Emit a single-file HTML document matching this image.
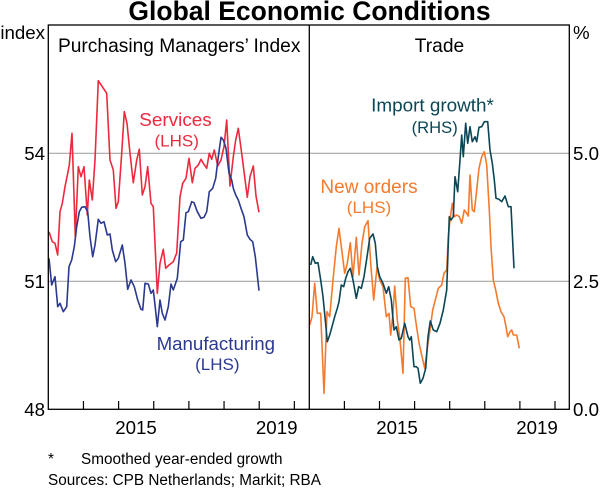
<!DOCTYPE html>
<html>
<head>
<meta charset="utf-8">
<style>
  html, body { margin: 0; padding: 0; background: #ffffff; }
  svg { display: block; }
  text { font-family: "Liberation Sans", Arial, sans-serif; }
</style>
</head>
<body>
<svg width="600" height="490" viewBox="0 0 600 490" xmlns="http://www.w3.org/2000/svg">
  <rect x="0" y="0" width="600" height="490" fill="#ffffff"/>

  <!-- Title -->
  <text x="309.5" y="20" font-size="26.5" font-weight="bold" text-anchor="middle" fill="#000">Global Economic Conditions</text>

  <!-- Gridlines -->
  <line x1="48.3" y1="153.3" x2="569.3" y2="153.3" stroke="#a6a6a6" stroke-width="1.2"/>
  <line x1="48.3" y1="281.3" x2="569.3" y2="281.3" stroke="#a6a6a6" stroke-width="1.2"/>

  <!-- Series: Services (red) -->
  <polyline fill="none" stroke="#ec2a3e" stroke-width="1.6" stroke-linejoin="round" points="49,231.7 52.3,241.7 55,243.3 57.7,255 60,211.7 62.3,203.3 65,186.7 67.7,173.3 69.3,165 72,133.3 75.3,236.7 78.3,166.7 81,176.7 84,166.7 87.3,215 89.3,180 92.3,200 95,160 98.3,80.7 102.3,86.7 106.7,93.3 110,160 113.3,170 116,208.3 118.3,201.7 121.7,153.3 124.3,111.7 127,123.3 130,153.3 133.3,182.7 136.7,160 139.3,149.3 142.3,195 145,186.7 147.7,166.7 151,203.3 153.3,206.7 157.3,293.3 160,263.3 163.3,249.3 165.7,268.3 169,265 173.3,261.7 176.7,253 180,196.7 182.7,183.3 186,178.3 189,158.3 192.3,182.7 195,168.3 198.3,165 201,159.3 203.3,163.3 206.7,168.3 209.3,153.3 211.7,159.3 214.3,150 217.7,166 221,160 224,146.7 226.7,120 230,186 233.3,156.7 235.7,140 238.3,128.3 241.7,153.3 247.3,197.3 250,176.7 253.3,166 256,196 259,212.3"/>

  <!-- Series: Manufacturing (navy) -->
  <polyline fill="none" stroke="#2b3990" stroke-width="1.6" stroke-linejoin="round" points="49,258.3 51.7,285 55,276.7 57.7,306.7 60,303.3 63.3,311.7 66.7,306.7 69,266.7 71.7,260 74.3,246.7 76.7,226.7 79.3,211.7 81.7,207.3 85,206.7 87.7,211.7 90,236.7 92.7,256.7 95,245 98.3,219.3 101,223.3 104,221.7 107.3,235 110,234 112.3,250 115.7,261.7 118.3,258.3 122.3,245 125,263.3 127.7,289.3 131,280 134.3,286.7 137.7,300 141,309.3 142.7,310 145,283.3 148.3,284 151,293.3 153.3,290 155,305 157.3,326.7 160,300 162.3,313.3 165,320 168.3,306.7 171,284 173.3,290 177.3,278.3 180.7,241.7 183.3,240 186,212.7 188.3,211.7 191.7,201.7 194,202.7 197.3,211.7 201,218.3 204,217.3 206.7,211.7 209.3,191.7 212.7,188.3 215.7,178.3 218.3,156.7 221,137.3 223.3,140 226,148.3 229,173.3 231.7,180 233.3,188.3 235.7,195 238.3,200 241,208.3 244,216.7 247.3,235 250,239.3 252.7,241.7 255.3,256.7 259,290.7"/>

  <!-- Series: New orders (orange) -->
  <polyline fill="none" stroke="#f47b2e" stroke-width="1.6" stroke-linejoin="round" points="309.7,325 312,316.7 314.7,283.3 317.3,313.3 320.7,313.3 324,393.3 327,311.7 329.7,316.7 333,280 336.3,246.7 339,228.3 341.3,246.7 344.7,273.3 347.3,263.3 350.3,242.7 353,276.7 356.3,237.3 359,275 362,243.3 364.7,226.7 368,220.7 370.7,263.3 373.7,300 377,267.3 379.7,280 383,286.7 386.3,316.7 389,313.3 390.7,335 393,313.3 394.7,286 397.3,320 399.7,336.7 403,373.3 405.3,278.3 408,277.7 410.7,306.7 414,308.3 416.3,325 419,342.7 421.3,353.3 424.7,368.3 428,343.3 430,330 432.7,310 435.7,298.3 438.3,288.3 441.7,285 444,273.3 446.7,270 448.3,236.7 450,220 452.3,203.3 454.3,216.7 456.7,215 459.3,216.7 461.7,223.3 464.3,210 466.7,213.3 468.3,216 470,175 472.3,210 474.3,211.7 476.7,190 479,168.3 481.7,156.7 484.3,151.7 486.7,165 489.3,210 491,246.7 493.3,280 495.7,290 498.3,303.3 501,311.7 504,316.7 506,326.7 507.7,336.7 510,331.7 511.7,330 513.3,335 516.7,335 519.3,348.3"/>

  <!-- Series: Import growth (teal) -->
  <polyline fill="none" stroke="#0c4656" stroke-width="1.6" stroke-linejoin="round" points="310.7,265 312.7,256.7 315.3,263.3 318,262.7 320.7,280 323,296.7 325.3,320 327.3,341.7 329.7,335 332,326.7 334.7,316.7 337.3,308.3 339,301.7 341.3,285 343.7,286.7 345.7,278.3 348,271.7 350.3,268.3 353,280 356.3,298.3 358.7,286.7 361.3,288.3 364,276.7 367.3,255 369.7,238.3 373,234 375.3,243.3 377.3,266.7 379.7,276.7 383,283.3 386.3,293.3 388.7,286.7 391.3,300 394,330 396.3,326.7 399,340 401.3,338.3 404.7,323.3 408,336.7 409.7,340 411.3,336.7 414,366.7 416.3,366.7 418,368.3 420.3,383.3 423,378.3 425.7,368.3 428,336.7 430.3,321 433.3,330 436.7,331.7 440,323.3 443.3,310 446.7,290 448.3,243.3 449.3,216.7 451,220 453.3,216.7 455,176.7 457.7,191.7 460,160 461.7,135 463.3,156.7 465.7,123.3 467.7,143.3 470,126.7 472.3,141.7 475,136.7 476.7,141.7 479,127.3 481.7,126.7 484.3,121.7 487.7,121.7 490,150 492.3,163.3 494.3,180 496,198.3 499,199.3 501.7,201.7 505,196 508.3,206.7 511,206.7 514,268.3"/>

  <!-- Frame -->
  <rect x="48.3" y="25" width="521" height="384.3" fill="none" stroke="#000" stroke-width="1.3"/>
  <line x1="309.3" y1="25" x2="309.3" y2="409.3" stroke="#000" stroke-width="1.3"/>

  <!-- X ticks -->
  <g stroke="#000" stroke-width="1.2">
    <line x1="83.45" y1="401" x2="83.45" y2="409.3"/>
    <line x1="118.6" y1="401" x2="118.6" y2="409.3"/>
    <line x1="153.75" y1="401" x2="153.75" y2="409.3"/>
    <line x1="188.9" y1="401" x2="188.9" y2="409.3"/>
    <line x1="224.05" y1="401" x2="224.05" y2="409.3"/>
    <line x1="259.2" y1="401" x2="259.2" y2="409.3"/>
    <line x1="294.35" y1="401" x2="294.35" y2="409.3"/>
    <line x1="344.4" y1="401" x2="344.4" y2="409.3"/>
    <line x1="379.5" y1="401" x2="379.5" y2="409.3"/>
    <line x1="414.6" y1="401" x2="414.6" y2="409.3"/>
    <line x1="449.7" y1="401" x2="449.7" y2="409.3"/>
    <line x1="484.8" y1="401" x2="484.8" y2="409.3"/>
    <line x1="519.9" y1="401" x2="519.9" y2="409.3"/>
    <line x1="555" y1="401" x2="555" y2="409.3"/>
  </g>

  <!-- Axis labels -->
  <g font-size="18.7" fill="#000">
    <text x="45" y="39" text-anchor="end">index</text>
    <text x="45" y="160" text-anchor="end">54</text>
    <text x="45" y="288" text-anchor="end">51</text>
    <text x="45" y="416" text-anchor="end">48</text>
    <text x="573" y="39">%</text>
    <text x="573" y="160">5.0</text>
    <text x="573" y="288">2.5</text>
    <text x="573" y="416">0.0</text>
    <text x="136" y="434" text-anchor="middle">2015</text>
    <text x="276.7" y="434" text-anchor="middle">2019</text>
    <text x="397" y="434" text-anchor="middle">2015</text>
    <text x="537" y="434" text-anchor="middle">2019</text>
  </g>

  <!-- Panel titles -->
  <text x="179.2" y="52" font-size="19.2" text-anchor="middle" fill="#000">Purchasing Managers’ Index</text>
  <text x="439.5" y="52" font-size="19.2" text-anchor="middle" fill="#000">Trade</text>

  <!-- Series labels -->
  <text x="175.5" y="126" font-size="18.9" text-anchor="middle" fill="#ec2a3e">Services</text>
  <text x="176.7" y="146.5" font-size="17" text-anchor="middle" fill="#ec2a3e">(LHS)</text>

  <text x="215.8" y="350" font-size="18.7" text-anchor="middle" fill="#2b3990">Manufacturing</text>
  <text x="217.3" y="370" font-size="17" text-anchor="middle" fill="#2b3990">(LHS)</text>

  <text x="432.5" y="111.7" font-size="18.9" text-anchor="middle" fill="#0c4656">Import growth*</text>
  <text x="434.7" y="133" font-size="16.6" text-anchor="middle" fill="#0c4656">(RHS)</text>

  <text x="369" y="193" font-size="19" text-anchor="middle" fill="#f47b2e">New orders</text>
  <text x="369" y="213" font-size="17" text-anchor="middle" fill="#f47b2e">(LHS)</text>

  <!-- Footnotes -->
  <g font-size="15.3" fill="#000">
    <text x="48" y="464">*</text>
    <text x="81" y="464">Smoothed year-ended growth</text>
    <text x="48" y="485">Sources: CPB Netherlands; Markit; RBA</text>
  </g>
</svg>
</body>
</html>
